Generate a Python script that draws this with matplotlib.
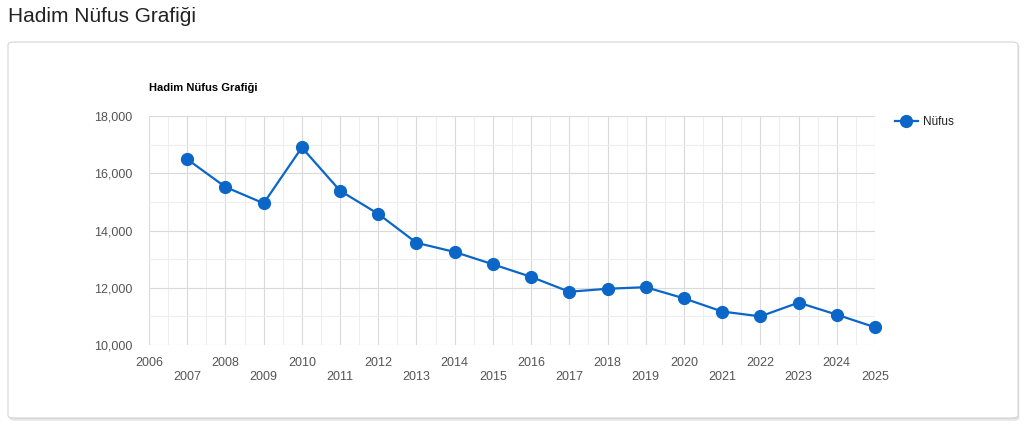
import matplotlib
matplotlib.use("Agg")
import matplotlib.pyplot as plt
from matplotlib.patches import FancyBboxPatch
from matplotlib.ticker import MultipleLocator, FuncFormatter

plt.rcParams["font.family"] = ["Liberation Sans", "DejaVu Sans"]

TITLE = "Hadim Nüfus Grafiği"
SERIES = "Nüfus"
years = [2007, 2008, 2009, 2010, 2011, 2012, 2013, 2014, 2015, 2016,
         2017, 2018, 2019, 2020, 2021, 2022, 2023, 2024, 2025]
population = [16490, 15520, 14950, 16900, 15390, 14580, 13570, 13250, 12820, 12380,
              11860, 11965, 12020, 11630, 11170, 11000, 11480, 11060, 10620]

BLUE = "#0b66c7"
GRID = "#dadada"
MINOR = "#eeeeee"
TXT = "#555555"

W, H = 1024, 434
fig = plt.figure(figsize=(W / 100, H / 100), dpi=100)
fig.patch.set_facecolor("white")

# page heading
fig.text(8 / W, 1 - 16 / H, TITLE, fontsize=15, color="#222222",
         ha="left", va="center")

# card with soft shadow
for off, col in [(3, "#ececec"), (1.5, "#dedede")]:
    fig.patches.append(FancyBboxPatch(
        ((8 + off * 0.5) / W, (H - 418 - off) / H), 1010 / W, 376 / H,
        boxstyle="round,pad=0,rounding_size=0.006", transform=fig.transFigure,
        facecolor=col, edgecolor="none", zorder=0))
fig.patches.append(FancyBboxPatch(
    (8 / W, (H - 418) / H), 1010 / W, 376 / H,
    boxstyle="round,pad=0,rounding_size=0.006", transform=fig.transFigure,
    facecolor="white", edgecolor="#d4d4d4", linewidth=0.8, zorder=1))

ax = fig.add_axes([149 / W, 1 - 345 / H, (875 - 149) / W, (345 - 116) / H])
ax.set_facecolor("none")
ax.set_zorder(2)

ax.plot(years, population, color=BLUE, linewidth=1.6, marker="o",
        markersize=8.5, label=SERIES, zorder=3, clip_on=False)

ax.set_xlim(2006, 2025)
ax.set_ylim(10000, 18000)
ax.xaxis.set_major_locator(MultipleLocator(1))
ax.xaxis.set_minor_locator(MultipleLocator(0.5))
ax.yaxis.set_major_locator(MultipleLocator(2000))
ax.yaxis.set_minor_locator(MultipleLocator(1000))
ax.xaxis.set_major_formatter(FuncFormatter(
    lambda v, p: f"{int(round(v))}" if int(round(v)) % 2 == 0 else f"\n{int(round(v))}"))
ax.yaxis.set_major_formatter(FuncFormatter(lambda v, p: f"{int(v):,}"))

ax.grid(which="major", color=GRID, linewidth=0.8)
ax.grid(which="minor", color=MINOR, linewidth=0.8)
ax.set_axisbelow(True)
for sp in ax.spines.values():
    sp.set_visible(False)
ax.tick_params(which="both", length=0)
ax.tick_params(axis="x", labelsize=9, labelcolor=TXT, pad=9)
ax.tick_params(axis="y", labelsize=9, labelcolor=TXT, pad=12)

fig.text(149 / W, 1 - 88 / H, TITLE, fontsize=8, fontweight="bold",
         color="#000000", ha="left", va="center")

ax.legend(loc="center left", bbox_to_anchor=(884 / W, 1 - 122 / H),
          bbox_transform=fig.transFigure, frameon=False, fontsize=8.5,
          handlelength=2.0, handletextpad=0.4, labelcolor="#222222")

fig.savefig("out.png", dpi=100, facecolor="white")
